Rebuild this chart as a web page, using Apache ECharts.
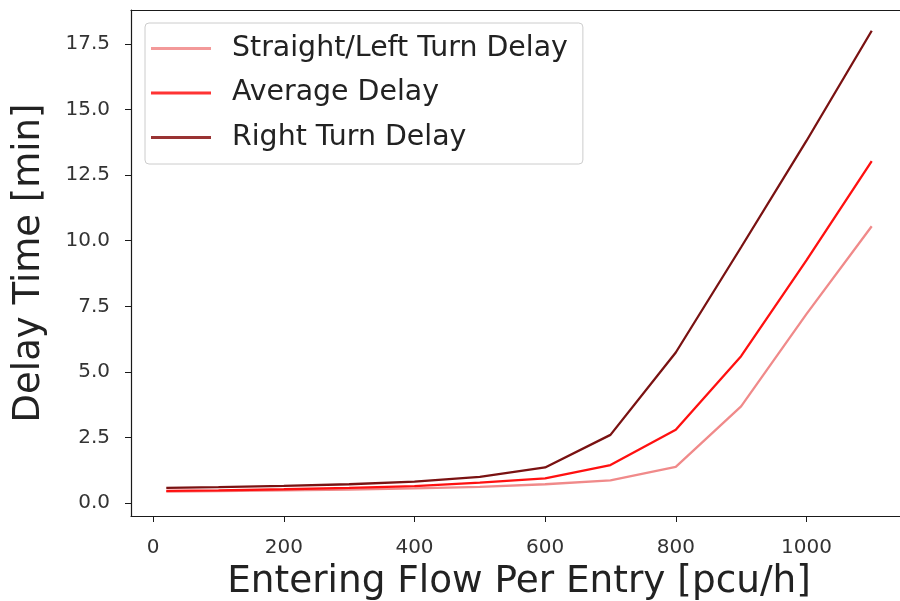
<!DOCTYPE html>
<html>
<head>
    <meta charset="utf-8">
    <title>Delay Time</title>
    <script type="text/javascript" src="https://cdn.jsdelivr.net/npm/echarts@6/dist/echarts.min.js"></script>
    <style>
        html, body { margin: 0; padding: 0; background: #fff; overflow: hidden; }
    </style>
</head>
<body>
    <div id="main" style="width: 900px;height:601px;"></div>
    <script type="text/javascript">
        // data
        var flows = [20, 100, 200, 300, 400, 500, 600, 700, 800, 900, 1000, 1100];
        var straightLeft = [0.44, 0.46, 0.49, 0.52, 0.56, 0.62, 0.72, 0.87, 1.38, 3.69, 7.2, 10.55];
        var average = [0.47, 0.49, 0.53, 0.58, 0.65, 0.78, 0.94, 1.45, 2.8, 5.6, 9.25, 13.03];
        var rightTurn = [0.58, 0.61, 0.66, 0.72, 0.82, 1.0, 1.36, 2.6, 5.74, 9.75, 13.8, 18.0];
        var seriesNames = ['Straight/Left Turn Delay', 'Average Delay', 'Right Turn Delay'];
        var xTicks = [0, 200, 400, 600, 800, 1000];
        var yTicks = [0, 2.5, 5, 7.5, 10, 12.5, 15, 17.5];

        var lineColors = ['#f08a8a', '#ff1010', '#7a1212'];
        var legendColors = ['#f39999', '#ff3333', '#993333'];
        var font = 'DejaVu Sans';
        var spine = { color: '#1a1a1a', width: 1.2 };

        function pairs(ys) {
            return flows.map(function (x, i) { return [x, ys[i]]; });
        }

        var option = {
            animation: false,
            textStyle: { fontFamily: font },
            grid: {
                left: 131, top: 10, width: 776, height: 506,
                outerBoundsMode: 'none'
            },
            legend: {
                left: 145, top: 23,
                orient: 'vertical',
                icon: 'rect',
                itemWidth: 60, itemHeight: 3,
                itemGap: 14.5,
                padding: [10.5, 15, 11.5, 6],
                backgroundColor: 'rgba(255,255,255,0.8)',
                borderColor: '#cccccc', borderWidth: 1, borderRadius: 4,
                textStyle: {
                    fontFamily: font, fontSize: 28.4, color: '#222',
                    lineHeight: 30, padding: [0, 0, 0, 16]
                },
                data: seriesNames.map(function (n, i) {
                    return { name: n, itemStyle: { color: legendColors[i] } };
                })
            },
            xAxis: [{
                type: 'value',
                min: -34, max: 1154,
                name: 'Entering Flow Per Entry [pcu/h]',
                nameLocation: 'middle',
                nameGap: 48,
                nameTextStyle: { fontFamily: font, fontSize: 37.4, color: '#222' },
                splitLine: { show: false },
                axisLine: { show: true, onZero: false, lineStyle: spine },
                axisTick: { show: true, length: 6, customValues: xTicks, lineStyle: { color: '#1a1a1a' } },
                axisLabel: {
                    customValues: xTicks, margin: 22,
                    fontFamily: font, fontSize: 20, color: '#333',
                    formatter: function (v) { return String(v); }
                }
            }, {
                // top spine only
                type: 'value', position: 'top',
                min: -34, max: 1154,
                splitLine: { show: false },
                axisLine: { show: true, onZero: false, lineStyle: spine },
                axisTick: { show: false },
                axisLabel: { show: false }
            }],
            yAxis: {
                type: 'value',
                min: -0.49, max: 18.79,
                name: 'Delay Time [min]',
                nameLocation: 'middle',
                nameGap: 83,
                nameTextStyle: { fontFamily: font, fontSize: 37, color: '#222' },
                splitLine: { show: false },
                axisLine: { show: true, onZero: false, lineStyle: spine },
                axisTick: { show: true, length: 6, customValues: yTicks, lineStyle: { color: '#1a1a1a' } },
                axisLabel: {
                    customValues: yTicks, margin: 21,
                    fontFamily: font, fontSize: 20, color: '#333',
                    formatter: function (v) { return v.toFixed(1); }
                }
            },
            series: [straightLeft, average, rightTurn].map(function (ys, i) {
                return {
                    name: seriesNames[i],
                    type: 'line',
                    symbol: 'none',
                    data: pairs(ys),
                    itemStyle: { color: lineColors[i] },
                    lineStyle: { color: lineColors[i], width: 2.3 }
                };
            })
        };
        echarts.init(document.getElementById('main')).setOption(option);
    </script>
</body>
</html>
